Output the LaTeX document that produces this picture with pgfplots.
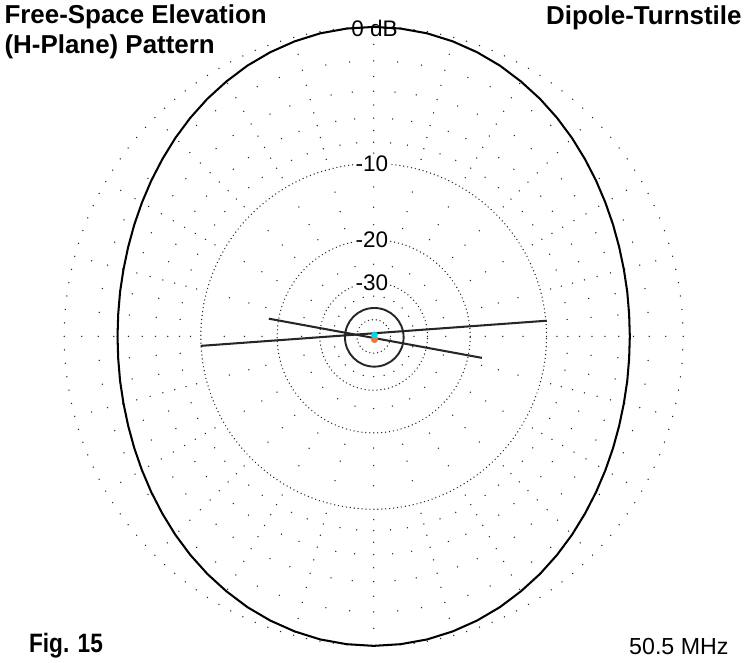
\documentclass[border=0pt]{standalone}
\usepackage{pgfplots}
\pgfplotsset{compat=1.18}
\usepackage{pgfplotstable}
\usepackage{fontspec}
\setmainfont{Liberation Sans}
\newfontfamily\narrowfont[FakeStretch=0.85]{Liberation Sans}

% elevation angle (deg) and gain (dB rel. max)
\pgfplotstableread{
ang db
0 -3.25
5 -3.23
10 -3.16
15 -3.06
20 -2.91
25 -2.72
30 -2.50
35 -2.25
40 -1.98
45 -1.69
50 -1.40
55 -1.12
60 -0.86
65 -0.61
70 -0.40
75 -0.23
80 -0.10
85 -0.03
90 0.00
95 -0.03
100 -0.10
105 -0.23
110 -0.40
115 -0.61
120 -0.86
125 -1.12
130 -1.40
135 -1.69
140 -1.98
145 -2.25
150 -2.50
155 -2.72
160 -2.91
165 -3.06
170 -3.16
175 -3.23
180 -3.25
185 -3.23
190 -3.16
195 -3.06
200 -2.91
205 -2.72
210 -2.50
215 -2.25
220 -1.98
225 -1.69
230 -1.40
235 -1.12
240 -0.86
245 -0.61
250 -0.40
255 -0.23
260 -0.10
265 -0.03
270 0.00
275 -0.03
280 -0.10
285 -0.23
290 -0.40
295 -0.61
300 -0.86
305 -1.12
310 -1.40
315 -1.69
320 -1.98
325 -2.25
330 -2.50
335 -2.72
340 -2.91
345 -3.06
350 -3.16
355 -3.23
360 -3.25
}\patterntable

\begin{document}
\begin{tikzpicture}
\begin{axis}[
  x=226.875pt, y=226.875pt,
  xmin=-1.24793, xmax=1.21818,
  ymin=-1.05124, ymax=1.11736,
  hide axis, clip=false,
]
% ---- grid ----
\pgfplotsextra{
  % dense dotted rings: 0 (every 2.5 deg), -10, -20, -30, -50
  \foreach \a in {0,2.5,...,357.5} {
    \pgfmathsetmacro\px{cos(\a)}\pgfmathsetmacro\py{sin(\a)}
    \fill[black!85] (axis cs:\px,\py) circle[radius=0.55pt];
  }
  \foreach \d in {10,20,30,50} {
    \pgfmathsetmacro\rr{226.875*exp(-0.0582651*\d)}
    \draw[black!85, line width=1.05pt, line cap=round, dash pattern=on 0pt off 2.9pt] (axis cs:0,0) circle[radius=\rr pt];
  }
  % radial dots every 15 deg
  \foreach \a in {0,15,...,345} {
    \foreach \d in {1,2,3,4,5,6,7,8,9,12.5,15,17.5,25,35} {
      \pgfmathsetmacro\r{exp(-0.0582651*\d)}
      \pgfmathsetmacro\px{\r*cos(\a)}\pgfmathsetmacro\py{\r*sin(\a)}
      \fill[black!85] (axis cs:\px,\py) circle[radius=0.55pt];
    }
  }
  % intermediate radials every 5 deg
  \foreach \a in {5,10,20,25,35,40,50,55,65,70,80,85,95,100,110,115,125,130,140,145,155,160,170,175,185,190,200,205,215,220,230,235,245,250,260,265,275,280,290,295,305,310,320,325,335,340,350,355} {
    \foreach \d in {2,4,6,8} {
      \pgfmathsetmacro\r{exp(-0.0582651*\d)}
      \pgfmathsetmacro\px{\r*cos(\a)}\pgfmathsetmacro\py{\r*sin(\a)}
      \fill[black!85] (axis cs:\px,\py) circle[radius=0.55pt];
    }
  }
  % ring labels
  \node[fill=white, inner sep=1pt, font=\fontsize{16.5pt}{18pt}\selectfont] at (axis cs:-0.006,0.5584) {-10};
  \node[fill=white, inner sep=1pt, font=\fontsize{16.5pt}{18pt}\selectfont] at (axis cs:-0.006,0.3118) {-20};
  \node[fill=white, inner sep=1pt, font=\fontsize{16.5pt}{18pt}\selectfont] at (axis cs:-0.006,0.1741) {-30};
  \node[fill=white, inner sep=1pt, font=\fontsize{16.5pt}{18pt}\selectfont] at (axis cs:0.003,0.995) {0 dB};
}

% ---- pattern ----
\addplot[black, line width=1.5pt, line join=round] table[
  x expr={exp(0.0582651*\thisrow{db})*cos(\thisrow{ang})},
  y expr={exp(0.0582651*\thisrow{db})*sin(\thisrow{ang})}] {\patterntable};

% inner traces
\addplot[black!85, line width=1.5pt] coordinates {(-0.5593,-0.0307) (0.5593,0.0506)};
\addplot[black!85, line width=1.5pt] coordinates {(-0.3388,0.0572) (0.3498,-0.0694)};
\pgfplotsextra{
  \draw[black!85, line width=1.4pt] (axis cs:0.002,-0.003) circle[radius=21.5pt];
}
\addplot[only marks, mark=*, mark size=2.4pt, color={rgb,255:red,235;green,120;blue,60}] coordinates {(0.0026,-0.010)};
\addplot[only marks, mark=*, mark size=2.2pt, color={rgb,255:red,0;green,215;blue,230}] coordinates {(0.0026,0.005)};

% ---- texts ----
\node[anchor=base west, font=\bfseries\fontsize{19pt}{22pt}\selectfont] at (axis cs:-1.2083,1.0116) {Free-Space Elevation};
\node[anchor=base west, font=\bfseries\fontsize{19pt}{22pt}\selectfont] at (axis cs:-1.2083,0.9140) {(H-Plane) Pattern};
\node[anchor=base east, font=\bfseries\fontsize{19pt}{22pt}\selectfont] at (axis cs:1.2040,1.0083) {Dipole-Turnstile};
\node[anchor=base west, font=\narrowfont\bfseries\fontsize{19.5pt}{22pt}\selectfont] at (axis cs:-1.1289,-1.0215) {Fig. 15};
\node[anchor=base east, font=\fontsize{17pt}{20pt}\selectfont] at (axis cs:1.1620,-1.0280) {50.5 MHz};
\end{axis}
\end{tikzpicture}
\end{document}
